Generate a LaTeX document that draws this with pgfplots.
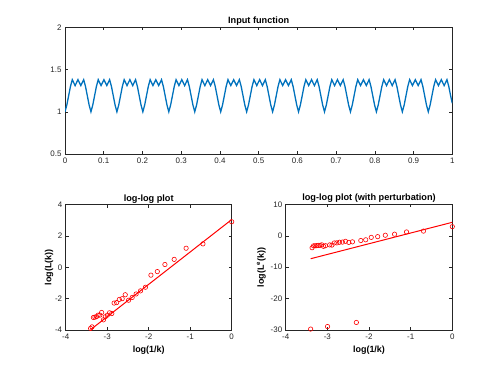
\documentclass[border=0pt]{standalone}
\usepackage{fontspec}
\setmainfont{Liberation Sans}
\usepackage{pgfplots}
\pgfplotsset{compat=1.18}
\definecolor{mblue}{RGB}{0,114,189}
\definecolor{axgray}{RGB}{38,38,38}

% log(1/k) against log L(k), k = 1..30
\pgfplotstableread{
x y
0 2.91
-0.693 1.50
-1.099 1.22
-1.386 0.51
-1.609 0.18
-1.792 -0.27
-1.946 -0.50
-2.079 -1.27
-2.197 -1.50
-2.303 -1.70
-2.398 -1.92
-2.485 -2.10
-2.565 -1.75
-2.639 -2.00
-2.708 -2.05
-2.773 -2.25
-2.833 -2.28
-2.890 -2.95
-2.944 -2.90
-2.996 -3.05
-3.045 -3.15
-3.091 -3.35
-3.135 -2.88
-3.178 -3.05
-3.219 -3.05
-3.258 -3.15
-3.296 -3.18
-3.332 -3.20
-3.367 -3.80
-3.401 -3.90
}\plain

% same with three perturbed values (k = 10, 20, 30)
\pgfplotstableread{
x y
0 2.91
-0.693 1.50
-1.099 1.22
-1.386 0.51
-1.609 0.18
-1.792 -0.27
-1.946 -0.50
-2.079 -1.27
-2.197 -1.50
-2.303 -27.6
-2.398 -1.92
-2.485 -2.10
-2.565 -1.75
-2.639 -2.00
-2.708 -2.05
-2.773 -2.25
-2.833 -2.28
-2.890 -2.95
-2.944 -2.90
-2.996 -28.9
-3.045 -3.15
-3.091 -3.35
-3.135 -2.88
-3.178 -3.05
-3.219 -3.05
-3.258 -3.15
-3.296 -3.18
-3.332 -3.20
-3.367 -3.80
-3.401 -29.7
}\perturbed

\pgfplotsset{mstyle/.style={
  scale only axis,
  anchor=south west,
  axis line style={axgray, line width=0.5bp},
  every tick/.style={axgray, line width=0.5bp},
  major tick length=3bp,
  tick label style={font=\fontsize{8}{9}\selectfont, color=axgray},
  label style={font=\bfseries\fontsize{9}{10.8}\selectfont},
  title style={font=\bfseries\fontsize{9.2}{11}\selectfont, yshift=-8bp},
  /pgf/number format/assume math mode=true,
}}

\begin{document}
\begin{tikzpicture}[x=1bp,y=1bp]
\path[use as bounding box] (0,0) rectangle (500,372);

\begin{axis}[mstyle, at={(65bp,218bp)}, width=387.3bp, height=126.7bp,
    xmin=0, xmax=1, ymin=0.5, ymax=2,
    xtick={0,0.1,0.2,0.3,0.4,0.5,0.6,0.7,0.8,0.9,1},
    xticklabels={0,0.1,0.2,0.3,0.4,0.5,0.6,0.7,0.8,0.9,1},
    ytick={0.5,1,1.5,2}, yticklabels={0.5,1,1.5,2},
    title={Input function}]
\addplot[mblue, line width=1.3bp] coordinates {
(0,1.00)(0.0047,1.08)(0.0094,1.19)(0.0141,1.30)(0.0188,1.38)(0.0261,1.31)(0.0335,1.38)(0.0409,1.31)(0.0482,1.38)(0.0529,1.30)(0.0576,1.19)(0.0623,1.08)
(0.067,1.00)(0.0717,1.08)(0.0764,1.19)(0.0811,1.30)(0.0858,1.38)(0.0931,1.31)(0.1005,1.38)(0.1079,1.31)(0.1152,1.38)(0.1199,1.30)(0.1246,1.19)(0.1293,1.08)
(0.134,1.00)(0.1387,1.08)(0.1434,1.19)(0.1481,1.30)(0.1528,1.38)(0.1601,1.31)(0.1675,1.38)(0.1749,1.31)(0.1822,1.38)(0.1869,1.30)(0.1916,1.19)(0.1963,1.08)
(0.201,1.00)(0.2057,1.08)(0.2104,1.19)(0.2151,1.30)(0.2198,1.38)(0.2271,1.31)(0.2345,1.38)(0.2419,1.31)(0.2492,1.38)(0.2539,1.30)(0.2586,1.19)(0.2633,1.08)
(0.268,1.00)(0.2727,1.08)(0.2774,1.19)(0.2821,1.30)(0.2868,1.38)(0.2941,1.31)(0.3015,1.38)(0.3089,1.31)(0.3162,1.38)(0.3209,1.30)(0.3256,1.19)(0.3303,1.08)
(0.335,1.00)(0.3397,1.08)(0.3444,1.19)(0.3491,1.30)(0.3538,1.38)(0.3611,1.31)(0.3685,1.38)(0.3759,1.31)(0.3832,1.38)(0.3879,1.30)(0.3926,1.19)(0.3973,1.08)
(0.402,1.00)(0.4067,1.08)(0.4114,1.19)(0.4161,1.30)(0.4208,1.38)(0.4281,1.31)(0.4355,1.38)(0.4429,1.31)(0.4502,1.38)(0.4549,1.30)(0.4596,1.19)(0.4643,1.08)
(0.469,1.00)(0.4737,1.08)(0.4784,1.19)(0.4831,1.30)(0.4878,1.38)(0.4951,1.31)(0.5025,1.38)(0.5099,1.31)(0.5172,1.38)(0.5219,1.30)(0.5266,1.19)(0.5313,1.08)
(0.536,1.00)(0.5407,1.08)(0.5454,1.19)(0.5501,1.30)(0.5548,1.38)(0.5621,1.31)(0.5695,1.38)(0.5769,1.31)(0.5842,1.38)(0.5889,1.30)(0.5936,1.19)(0.5983,1.08)
(0.603,1.00)(0.6077,1.08)(0.6124,1.19)(0.6171,1.30)(0.6218,1.38)(0.6291,1.31)(0.6365,1.38)(0.6439,1.31)(0.6512,1.38)(0.6559,1.30)(0.6606,1.19)(0.6653,1.08)
(0.670,1.00)(0.6747,1.08)(0.6794,1.19)(0.6841,1.30)(0.6888,1.38)(0.6961,1.31)(0.7035,1.38)(0.7109,1.31)(0.7182,1.38)(0.7229,1.30)(0.7276,1.19)(0.7323,1.08)
(0.737,1.00)(0.7417,1.08)(0.7464,1.19)(0.7511,1.30)(0.7558,1.38)(0.7631,1.31)(0.7705,1.38)(0.7779,1.31)(0.7852,1.38)(0.7899,1.30)(0.7946,1.19)(0.7993,1.08)
(0.804,1.00)(0.8087,1.08)(0.8134,1.19)(0.8181,1.30)(0.8228,1.38)(0.8301,1.31)(0.8375,1.38)(0.8449,1.31)(0.8522,1.38)(0.8569,1.30)(0.8616,1.19)(0.8663,1.08)
(0.871,1.00)(0.8757,1.08)(0.8804,1.19)(0.8851,1.30)(0.8898,1.38)(0.8971,1.31)(0.9045,1.38)(0.9119,1.31)(0.9192,1.38)(0.9239,1.30)(0.9286,1.19)(0.9333,1.08)
(0.938,1.00)(0.9427,1.08)(0.9474,1.19)(0.9521,1.30)(0.9568,1.38)(0.9641,1.31)(0.9715,1.38)(0.9789,1.31)(0.9862,1.38)(0.9909,1.30)(0.9956,1.19)(1.0,1.10)
};
\end{axis}

\begin{axis}[mstyle, at={(65.7bp,42bp)}, width=166bp, height=125.3bp,
    xmin=-4, xmax=0, ymin=-4, ymax=4,
    xtick={-4,-3,-2,-1,0}, xticklabels={-4,-3,-2,-1,0},
    ytick={-4,-2,0,2,4}, yticklabels={-4,-2,0,2,4},
    ylabel shift=-5bp,
    title={log-log plot}, xlabel={log(1/k)}, ylabel={log(L(k))}]
\addplot[red, only marks, mark=o, mark size=2.2bp, mark options={line width=0.6bp}] table[x=x,y=y] {\plain};
\addplot[red, line width=1bp] coordinates {(-3.401,-3.98)(0,3.05)};
\end{axis}

\begin{axis}[mstyle, at={(285.7bp,42bp)}, width=166.6bp, height=125.6bp,
    xmin=-4, xmax=0, ymin=-30, ymax=10,
    xtick={-4,-3,-2,-1,0}, xticklabels={-4,-3,-2,-1,0},
    ytick={-30,-20,-10,0,10}, yticklabels={-30,-20,-10,0,10},
    ylabel shift=-2bp,
    title={log-log plot (with perturbation)}, xlabel={log(1/k)},
    ylabel={log(L\textsuperscript{e}(k))}]
\addplot[red, only marks, mark=o, mark size=2.2bp, mark options={line width=0.6bp}] table[x=x,y=y] {\perturbed};
\addplot[red, line width=1bp] coordinates {(-3.401,-7.3)(0,4.3)};
\end{axis}
\end{tikzpicture}
\end{document}
